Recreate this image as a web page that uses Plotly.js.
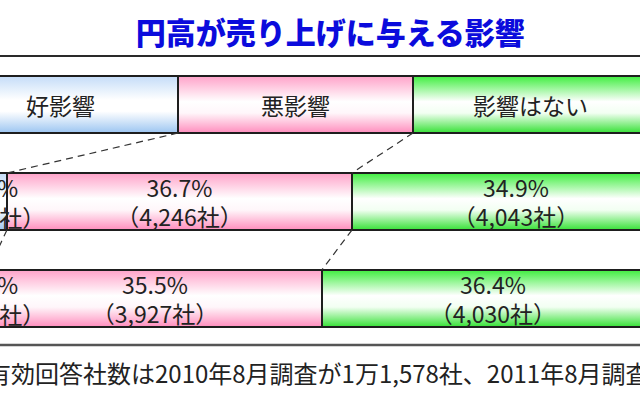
<!DOCTYPE html>
<html>
<head>
<meta charset="utf-8">
<script src="https://cdn.plot.ly/plotly-3.0.1.min.js"></script>
<style>
  html, body { margin: 0; padding: 0; background: #fff; }
  #chart { width: 640px; height: 400px; }
</style>
</head>
<body>
<div id="chart"></div>
<script>
// ---- data ----
const categories   = ['好影響', '悪影響', '影響はない'];
const surveys      = ['凡例', '2010年8月', '2011年8月'];
const legendShare  = [25, 25, 25];
const share2010    = [6.8, 36.7, 34.9];
const share2011    = [4.8, 35.5, 36.4];
const firms2010    = [787, 4246, 4043];
const firms2011    = [531, 3927, 4030];
const titleText    = '円高が売り上げに与える影響';
const noteText     = '有効回答社数は2010年8月調査が1万1,578社、2011年8月調査';

// ---- styling ----
const fallbackColors = ['#b4d4f6', '#ffb6d3', '#6cec6c'];
const gradients = [
  [[0, '#c4dcf8'], [0.42, '#ffffff'], [0.62, '#ffffff'], [1, '#9cc5f1']],
  [[0, '#ffa2c9'], [0.45, '#ffffff'], [0.65, '#fff6fa'], [1, '#ff8dbd']],
  [[0, '#3fee3f'], [0.45, '#ffffff'], [0.65, '#f2fff2'], [1, '#36e136']]
];
const FONT = '"Noto Sans CJK JP", "Noto Sans", sans-serif';
const LABEL_SIZE = 23;
const BAR_W = 0.588;
const yPos = [2, 1, 0];   // legend row, 2010, 2011
const rowsData = [legendShare, share2010, share2011];
const firmsData = [null, firms2010, firms2011];

const fmtPct = v => v.toFixed(1) + '%';
const fmtN = n => n.toLocaleString('en-US');
const label = (r, i) => fmtPct(rowsData[r][i]) + '<br>（' + fmtN(firmsData[r][i]) + '社）';

const traces = categories.map((cat, i) => ({
  type: 'bar',
  orientation: 'h',
  name: cat,
  y: yPos,
  x: rowsData.map(r => r[i]),
  width: BAR_W,
  // the narrow first segment gets its label as an annotation (see below)
  text: [cat, i === 0 ? '' : label(1, i), i === 0 ? '' : label(2, i)],
  textposition: 'inside',
  insidetextanchor: 'middle',
  constraintext: 'none',
  textangle: 0,
  textfont: { family: FONT, size: LABEL_SIZE, color: '#222222' },
  marker: { color: fallbackColors[i], line: { color: '#1e1e1e', width: 1.5 } },
  hoverinfo: 'skip',
  showlegend: false
}));

// series (connector) lines between the ends of each segment
const cum = rowsData.map(r => { let s = 0; return r.map(v => (s += v)); });
for (let k = 0; k < categories.length; k++) {
  const xs = [], ys = [];
  for (let r = 0; r < rowsData.length - 1; r++) {
    xs.push(cum[r][k], cum[r + 1][k], null);
    ys.push(yPos[r] - BAR_W / 2, yPos[r + 1] + BAR_W / 2, null);
  }
  traces.push({
    type: 'scatter', mode: 'lines', x: xs, y: ys,
    line: { color: '#333333', width: 1.2, dash: '7px,5px' },
    hoverinfo: 'skip', showlegend: false, cliponaxis: false
  });
}

// labels of the narrow first segment, at the left edge of the picture
const firstLabels = [1, 2].map(r => ({
  text: label(r, 0), x: 0, y: yPos[r], xref: 'x domain', yref: 'y',
  xanchor: 'center', yanchor: 'middle', xshift: -9, align: 'center', showarrow: false,
  font: { family: FONT, size: LABEL_SIZE, color: '#222222' }
}));

const layout = {
  width: 640, height: 400,
  margin: { l: 0, r: 0, t: 0, b: 0 },
  paper_bgcolor: '#ffffff', plot_bgcolor: '#ffffff',
  barmode: 'stack',
  title: {
    text: titleText,
    font: { family: FONT, size: 30, color: '#0b0bdc', weight: 900 },
    x: 0.516, xanchor: 'center', xref: 'paper',
    y: 1 - 33 / 400, yanchor: 'middle', yref: 'paper'
  },
  xaxis: { range: [6.06, 74.15], showgrid: false, zeroline: false, showticklabels: false, showline: false, fixedrange: true },
  yaxis: { range: [-1.0464, 3.0773], showgrid: false, zeroline: false, showticklabels: false, showline: false, fixedrange: true },
  shapes: [
    { type: 'line', xref: 'paper', yref: 'paper', x0: 0, x1: 1, y0: 1 - 56 / 400, y1: 1 - 56 / 400, line: { color: '#2a2a2a', width: 2 } },
    { type: 'line', xref: 'paper', yref: 'paper', x0: 0, x1: 1, y0: 1 - 345 / 400, y1: 1 - 345 / 400, line: { color: '#555555', width: 2.5 } }
  ],
  annotations: firstLabels.concat([
    { text: noteText, xref: 'paper', yref: 'paper', x: -15 / 640, y: 1 - 372 / 400, xanchor: 'left', yanchor: 'middle', showarrow: false,
      font: { family: FONT, size: 24, color: '#222222' } }
  ])
};

Plotly.newPlot('chart', traces, layout, { displayModeBar: false, staticPlot: true }).then(gd => {
  const ns = 'http://www.w3.org/2000/svg';
  const svg = gd.querySelector('svg.main-svg');
  let defs = svg.querySelector('defs');
  if (!defs) { defs = document.createElementNS(ns, 'defs'); svg.insertBefore(defs, svg.firstChild); }
  gradients.forEach((stops, i) => {
    const g = document.createElementNS(ns, 'linearGradient');
    g.setAttribute('id', 'barGrad' + i);
    g.setAttribute('x1', '0'); g.setAttribute('y1', '0');
    g.setAttribute('x2', '0'); g.setAttribute('y2', '1');
    stops.forEach(([o, c]) => {
      const s = document.createElementNS(ns, 'stop');
      s.setAttribute('offset', o); s.setAttribute('stop-color', c);
      g.appendChild(s);
    });
    defs.appendChild(g);
  });
  gd.querySelectorAll('.barlayer .trace').forEach((tr, i) => {
    tr.querySelectorAll('.point path').forEach(p => { p.style.fill = 'url(#barGrad' + i + ')'; });
  });
});
</script>
</body>
</html>
